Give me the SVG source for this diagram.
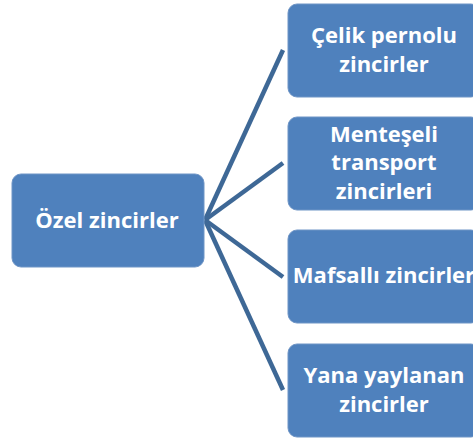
<svg xmlns="http://www.w3.org/2000/svg" width="473" height="439" viewBox="0 0 473 439">
<style>
.box{fill:#4f81bd;stroke:#6f95c6;stroke-width:1}
.t{fill:#ffffff;font-family:"Open Sans","Liberation Sans",sans-serif;font-weight:bold;font-size:22px;text-anchor:middle}
.c{stroke:#3e6896;stroke-width:4.5;fill:none}
</style>
<rect width="473" height="439" fill="#ffffff"/>
<g id="connectors">
<line class="c" x1="205" y1="220" x2="283" y2="50"/>
<line class="c" x1="205" y1="220" x2="283" y2="163"/>
<line class="c" x1="205" y1="220" x2="283" y2="277"/>
<line class="c" x1="205" y1="220" x2="283" y2="390"/>
</g>
<g id="ozel">
<rect class="box" x="12" y="174" width="192" height="93" rx="9"/>
<text class="t" x="107" y="228">Özel zincirler</text>
</g>
<g id="celik">
<rect class="box" x="288" y="4" width="192" height="93" rx="9"/>
<text class="t" x="384" y="43">Çelik pernolu</text>
<text class="t" x="384" y="72">zincirler</text>
</g>
<g id="mentese">
<rect class="box" x="288" y="117" width="192" height="93" rx="9"/>
<text class="t" x="384" y="142">Menteşeli</text>
<text class="t" x="384" y="170">transport</text>
<text class="t" x="384" y="199">zincirleri</text>
</g>
<g id="mafsalli">
<rect class="box" x="288" y="230" width="192" height="93" rx="9"/>
<text class="t" x="384" y="283">Mafsallı zincirler</text>
</g>
<g id="yana">
<rect class="box" x="288" y="344" width="192" height="93" rx="9"/>
<text class="t" x="384" y="383">Yana yaylanan</text>
<text class="t" x="384" y="412">zincirler</text>
</g>
</svg>
